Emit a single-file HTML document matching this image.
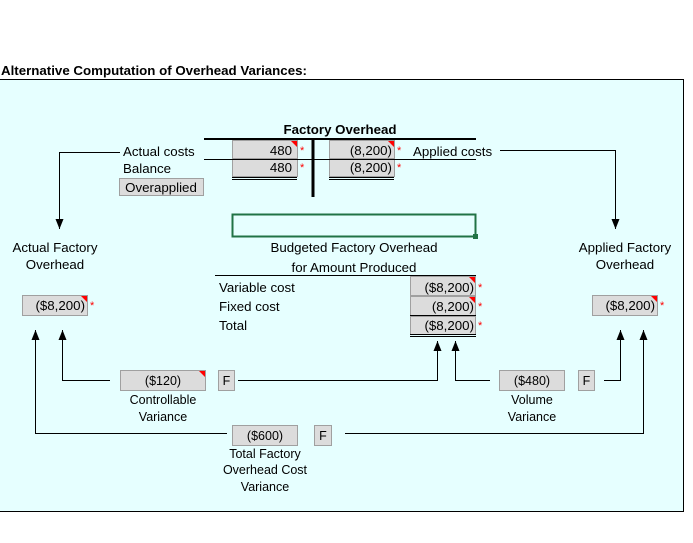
<!DOCTYPE html>
<html><head><meta charset="utf-8"><style>
html,body{margin:0;padding:0;background:#fff;width:693px;height:543px;overflow:hidden}
svg{display:block;font-family:"Liberation Sans",Arial,sans-serif;font-size:13.3px}
.c{fill:#dcdcdc;stroke:#a0a0a0;stroke-width:1}
.s{fill:#ff0000;font-size:11px}
.n{font-size:12.5px}
</style></head><body>
<svg width="693" height="543" viewBox="0 0 693 543" xmlns="http://www.w3.org/2000/svg">
<defs>
<marker id="a" markerWidth="10" markerHeight="8" refX="10" refY="4" orient="auto" markerUnits="userSpaceOnUse"><path d="M0,0 L10,4 L0,8z" fill="#000"/></marker>
</defs>
<rect x="0" y="79" width="684" height="433" fill="#e6ffff"/>
<line x1="0" y1="79.5" x2="684" y2="79.5" stroke="#000"/>
<line x1="683.5" y1="79" x2="683.5" y2="512" stroke="#000"/>
<line x1="0" y1="511.5" x2="684" y2="511.5" stroke="#000"/>
<text x="1" y="75" font-weight="bold">Alternative Computation of Overhead Variances:</text>

<text x="340" y="134" font-weight="bold" text-anchor="middle">Factory Overhead</text>
<rect class="c" x="232.5" y="140.5" width="65" height="18"/>
<rect class="c" x="232.5" y="159.5" width="65" height="17"/>
<rect class="c" x="329.5" y="140.5" width="65" height="18"/>
<rect class="c" x="329.5" y="159.5" width="65" height="17"/>
<line x1="204" y1="139" x2="476" y2="139" stroke="#000" stroke-width="2"/>
<line x1="313" y1="139" x2="313" y2="197" stroke="#000" stroke-width="3"/>
<line x1="204" y1="159.5" x2="476" y2="159.5" stroke="#000"/>
<line x1="232" y1="177.5" x2="297" y2="177.5" stroke="#000"/><line x1="232" y1="179.5" x2="297" y2="179.5" stroke="#000"/>
<line x1="329" y1="177.5" x2="394" y2="177.5" stroke="#000"/><line x1="329" y1="179.5" x2="394" y2="179.5" stroke="#000"/>
<path d="M291,141 h6 v6z" fill="red"/><path d="M388,141 h6 v6z" fill="red"/>
<text x="292" y="155" text-anchor="end">480</text>
<text x="292" y="172" text-anchor="end">480</text>
<text x="392" y="155" text-anchor="end">(8,200)</text>
<text x="392" y="172" text-anchor="end">(8,200)</text>
<text class="s" x="300" y="154">*</text><text class="s" x="300" y="171">*</text>
<text class="s" x="397" y="154">*</text><text class="s" x="397" y="171">*</text>
<text x="123" y="156">Actual costs</text>
<text x="123" y="173">Balance</text>
<text x="413" y="156">Applied costs</text>
<rect class="c" x="119.5" y="178.5" width="84" height="17"/>
<text x="161" y="192" text-anchor="middle">Overapplied</text>

<polyline points="120,152.5 59.5,152.5 59.5,229" fill="none" stroke="#000" marker-end="url(#a)"/>
<polyline points="500,150.5 615.5,150.5 615.5,229" fill="none" stroke="#000" marker-end="url(#a)"/>

<rect x="232.5" y="214.5" width="243" height="22" fill="none" stroke="#217346" stroke-width="2"/>
<rect x="473" y="234" width="5" height="5" fill="#217346"/>

<text x="354" y="252" text-anchor="middle">Budgeted Factory Overhead</text>
<text x="354" y="272" text-anchor="middle">for Amount Produced</text>
<line x1="215" y1="275.5" x2="476" y2="275.5" stroke="#000"/>
<rect class="c" x="410.5" y="276.5" width="65" height="19"/>
<rect class="c" x="410.5" y="296.5" width="65" height="19"/>
<rect class="c" x="410.5" y="316.5" width="65" height="18"/>
<line x1="410" y1="315.5" x2="476" y2="315.5" stroke="#000"/>
<line x1="410" y1="334.5" x2="476" y2="334.5" stroke="#000"/><line x1="410" y1="336.5" x2="476" y2="336.5" stroke="#000"/>
<path d="M469,277 h6 v6z" fill="red"/><path d="M469,297 h6 v6z" fill="red"/>
<text x="219" y="292">Variable cost</text>
<text x="219" y="311">Fixed cost</text>
<text x="219" y="330">Total</text>
<text x="474" y="292" text-anchor="end">($8,200)</text>
<text x="474" y="311" text-anchor="end">(8,200)</text>
<text x="474" y="330" text-anchor="end">($8,200)</text>
<text class="s" x="478" y="291">*</text><text class="s" x="478" y="310">*</text><text class="s" x="478" y="329">*</text>

<text x="55" y="252" text-anchor="middle">Actual Factory</text>
<text x="55" y="269" text-anchor="middle">Overhead</text>
<rect class="c" x="22.5" y="295.5" width="65" height="20"/>
<path d="M81,296 h6 v6z" fill="red"/>
<text x="85" y="310" text-anchor="end">($8,200)</text>
<text class="s" x="90" y="309">*</text>

<text x="625" y="252" text-anchor="middle">Applied Factory</text>
<text x="625" y="269" text-anchor="middle">Overhead</text>
<rect class="c" x="592.5" y="295.5" width="65" height="20"/>
<path d="M651,296 h6 v6z" fill="red"/>
<text x="655" y="310" text-anchor="end">($8,200)</text>
<text class="s" x="660" y="309">*</text>

<polyline points="110,380.5 62.5,380.5 62.5,330" fill="none" stroke="#000" marker-end="url(#a)"/>
<polyline points="227,433.5 35.5,433.5 35.5,330" fill="none" stroke="#000" marker-end="url(#a)"/>
<polyline points="238,380.5 437.5,380.5 437.5,341" fill="none" stroke="#000" marker-end="url(#a)"/>
<polyline points="490,380.5 455.5,380.5 455.5,341" fill="none" stroke="#000" marker-end="url(#a)"/>
<polyline points="604,380.5 620.5,380.5 620.5,330" fill="none" stroke="#000" marker-end="url(#a)"/>
<polyline points="345,433.5 643.5,433.5 643.5,330" fill="none" stroke="#000" marker-end="url(#a)"/>

<rect class="c" x="120.5" y="370.5" width="85" height="20"/>
<path d="M199,371 h6 v6z" fill="red"/>
<text class="n" x="163" y="385" text-anchor="middle">($120)</text>
<rect class="c" x="218.5" y="370.5" width="16" height="20"/>
<text class="n" x="226.5" y="385" text-anchor="middle">F</text>
<text class="n" x="163" y="404" text-anchor="middle">Controllable</text>
<text class="n" x="163" y="421" text-anchor="middle">Variance</text>

<rect class="c" x="499.5" y="370.5" width="65" height="20"/>
<text class="n" x="532" y="385" text-anchor="middle">($480)</text>
<rect class="c" x="578.5" y="370.5" width="16" height="20"/>
<text class="n" x="586.5" y="385" text-anchor="middle">F</text>
<text class="n" x="532" y="404" text-anchor="middle">Volume</text>
<text class="n" x="532" y="421" text-anchor="middle">Variance</text>

<rect class="c" x="232.5" y="425.5" width="65" height="20"/>
<text class="n" x="265" y="440" text-anchor="middle">($600)</text>
<rect class="c" x="314.5" y="425.5" width="17" height="20"/>
<text class="n" x="323" y="440" text-anchor="middle">F</text>
<text class="n" x="265" y="458" text-anchor="middle">Total Factory</text>
<text class="n" x="265" y="474" text-anchor="middle">Overhead Cost</text>
<text class="n" x="265" y="491" text-anchor="middle">Variance</text>
</svg>
</body></html>
